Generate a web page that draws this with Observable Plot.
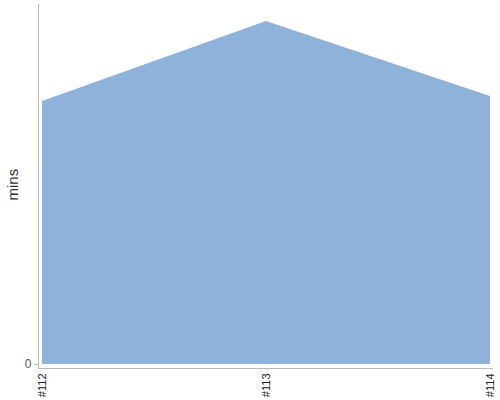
<!DOCTYPE html>
<html><head><meta charset="utf-8">
<script src="https://cdn.jsdelivr.net/npm/d3@7"></script>
<script src="https://cdn.jsdelivr.net/npm/@observablehq/plot@0.6"></script>
<style>body{margin:0;background:#fff;font-family:"Liberation Sans",Arial,sans-serif}</style>
</head><body><div id="chart"></div>
<script>
const builds = ["#112", "#113", "#114"];
const mins = [263, 343, 268];
const yTicks = [0];
const data = builds.map((b, i) => ({build: b, mins: mins[i]}));

const chart = Plot.plot({
  width: 500,
  height: 400,
  marginLeft: 38,
  marginRight: 8,
  marginTop: 4,
  marginBottom: 32,
  style: {fontFamily: "Liberation Sans, Arial, sans-serif", background: "#fff"},
  x: {type: "point", domain: builds, range: [42, 490], padding: 0},
  y: {domain: [0, 360], range: [364, 4]},
  marks: [
    Plot.areaY(data, {x: "build", y: "mins", fill: "#8fb2da", curve: "linear"}),
    Plot.frame({anchor: "left", stroke: "#bbb"}),
    Plot.frame({anchor: "bottom", stroke: "#bbb"}),
    Plot.axisY(yTicks, {ticks: yTicks, tickSize: 4, tickPadding: 3, stroke: "#bbb", fill: "#555", fontSize: 12, label: null}),
    Plot.text(["mins"], {frameAnchor: "left", dx: -25, dy: 14, rotate: -90, fontSize: 15, fill: "#333"}),
    Plot.axisX({tickRotate: -90, tickSize: 0, tickPadding: 5, fontSize: 11, fill: "#222", label: null})
  ]
});
document.getElementById("chart").append(chart);
</script></body></html>
